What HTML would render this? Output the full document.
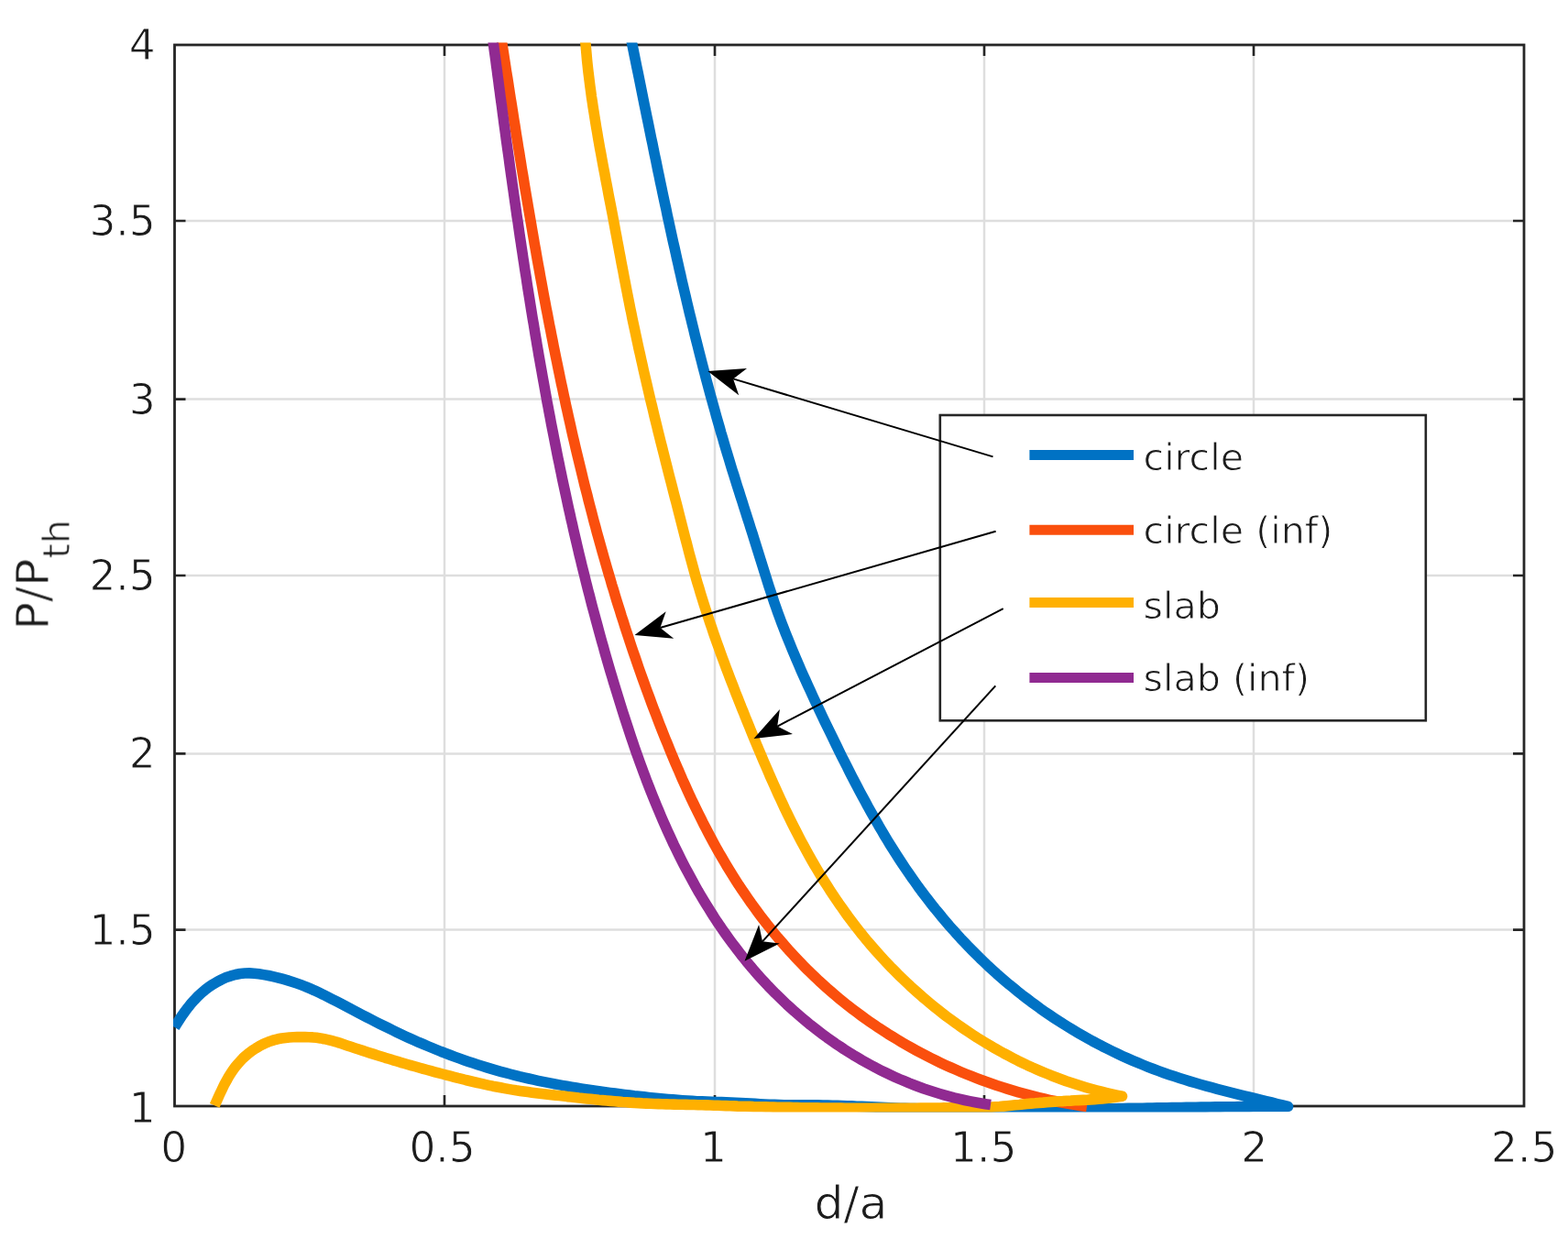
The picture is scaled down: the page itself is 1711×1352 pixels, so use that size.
<!DOCTYPE html>
<html><head><meta charset="utf-8"><title>P/Pth vs d/a</title>
<style>
html,body{margin:0;padding:0;background:#fff;}
body{width:1711px;height:1352px;overflow:hidden;}
svg{display:block;}
text{font-family:"DejaVu Sans","Liberation Sans",sans-serif;fill:#1c1c1c;stroke:#fff;stroke-width:0.9px;stroke-linejoin:round;}
.tk{font-size:45.5px;}
.lb{font-size:50.5px;}
.lg{font-size:41.2px;}
</style></head><body>
<svg width="1711" height="1352" viewBox="0 0 1711 1352">
<rect width="1711" height="1352" fill="#fff"/>
<defs><filter id="soft" x="-2%" y="-2%" width="104%" height="104%" filterUnits="objectBoundingBox"><feGaussianBlur stdDeviation="0.7"/></filter><clipPath id="ax"><rect x="189.0" y="46.5" width="1475.5" height="1167.0"/></clipPath></defs>
<g filter="url(#soft)">

<path d="M485,49.0 V1207.0 M780,49.0 V1207.0 M1074,49.0 V1207.0 M1368,49.0 V1207.0 M190.5,241 H1663.0 M190.5,435.6 H1663.0 M190.5,628 H1663.0 M190.5,822.4 H1663.0 M190.5,1014.6 H1663.0" stroke="#dedede" stroke-width="2.5" fill="none"/>
<path d="M485,1207.0 v-12 M485,49.0 v12 M780,1207.0 v-12 M780,49.0 v12 M1074,1207.0 v-12 M1074,49.0 v12 M1368,1207.0 v-12 M1368,49.0 v12 M190.5,241 h12 M1663.0,241 h-12 M190.5,435.6 h12 M1663.0,435.6 h-12 M190.5,628 h12 M1663.0,628 h-12 M190.5,822.4 h12 M1663.0,822.4 h-12 M190.5,1014.6 h12 M1663.0,1014.6 h-12" stroke="#262626" stroke-width="2.6" fill="none"/>
<rect x="190.5" y="49.0" width="1472.5" height="1158.0" fill="none" stroke="#262626" stroke-width="2.8"/>
<g clip-path="url(#ax)">
<path d="M687.6,37.2 L690.0,49.0 L691.2,55.0 L692.4,61.0 L693.6,66.9 L694.8,72.9 L696.1,78.9 L697.3,84.9 L698.5,90.8 L699.7,96.8 L700.9,102.8 L702.1,108.8 L703.3,114.8 L704.5,120.7 L705.7,126.7 L707.0,132.7 L708.2,138.7 L709.4,144.7 L710.6,150.6 L711.9,156.6 L713.1,162.6 L714.3,168.6 L715.6,174.6 L716.8,180.5 L718.0,186.5 L719.3,192.5 L720.5,198.5 L721.8,204.4 L723.0,210.4 L724.3,216.4 L725.6,222.4 L726.9,228.3 L728.1,234.3 L729.4,240.3 L730.7,246.3 L732.0,252.2 L733.3,258.2 L734.6,264.2 L736.0,270.1 L737.3,276.1 L738.6,282.0 L740.0,288.0 L741.3,294.0 L742.7,299.9 L744.0,305.9 L745.4,311.8 L746.8,317.8 L748.2,323.7 L749.6,329.7 L751.0,335.6 L752.4,341.6 L753.9,347.5 L755.3,353.4 L756.8,359.4 L758.2,365.3 L759.7,371.2 L761.2,377.1 L762.7,383.1 L764.2,389.0 L765.7,394.9 L767.2,400.8 L768.8,406.7 L770.3,412.6 L771.9,418.6 L773.5,424.5 L775.1,430.4 L776.7,436.2 L778.3,442.1 L780.0,448.0 L781.6,453.9 L783.3,459.8 L785.0,465.7 L786.6,471.6 L788.4,477.4 L790.1,483.3 L791.8,489.2 L793.6,495.0 L795.4,500.9 L797.1,506.7 L798.9,512.6 L800.8,518.4 L802.6,524.2 L804.4,530.1 L806.3,535.9 L808.1,541.7 L810.0,547.5 L811.8,553.4 L813.7,559.2 L815.5,565.0 L817.4,570.8 L819.2,576.6 L821.1,582.4 L822.9,588.2 L824.7,593.9 L826.5,599.7 L828.3,605.5 L830.1,611.2 L831.9,617.0 L833.7,622.8 L835.5,628.5 L837.3,634.2 L839.1,640.0 L841.0,645.7 L842.9,651.4 L844.8,657.2 L846.8,662.9 L848.8,668.6 L850.9,674.3 L853.0,680.0 L855.2,685.7 L857.4,691.4 L859.7,697.0 L862.0,702.7 L864.3,708.4 L866.7,714.0 L869.1,719.7 L871.5,725.3 L873.9,731.0 L876.4,736.6 L879.0,742.2 L881.5,747.8 L884.1,753.4 L886.6,759.0 L889.2,764.6 L891.9,770.2 L894.5,775.8 L897.2,781.4 L899.8,786.9 L902.5,792.5 L905.2,798.0 L907.9,803.6 L910.6,809.1 L913.3,814.6 L916.0,820.2 L918.7,825.7 L921.5,831.2 L924.3,836.6 L927.0,842.1 L929.8,847.6 L932.6,853.0 L935.5,858.4 L938.3,863.8 L941.2,869.2 L944.1,874.6 L947.0,880.0 L950.0,885.3 L953.0,890.6 L956.0,895.9 L959.0,901.2 L962.1,906.4 L965.2,911.7 L968.3,916.9 L971.5,922.1 L974.7,927.2 L978.0,932.4 L981.3,937.5 L984.6,942.5 L988.0,947.6 L991.4,952.6 L994.9,957.6 L998.4,962.5 L1001.9,967.5 L1005.5,972.4 L1009.2,977.2 L1012.9,982.1 L1016.6,986.8 L1020.4,991.6 L1024.3,996.3 L1028.1,1001.0 L1032.1,1005.7 L1036.0,1010.3 L1040.1,1014.8 L1044.1,1019.4 L1048.2,1023.9 L1052.4,1028.3 L1056.6,1032.7 L1060.9,1037.1 L1065.2,1041.4 L1069.5,1045.7 L1073.9,1049.9 L1078.3,1054.1 L1082.8,1058.2 L1087.3,1062.3 L1091.9,1066.3 L1096.5,1070.3 L1101.2,1074.3 L1105.9,1078.1 L1110.6,1082.0 L1115.4,1085.8 L1120.3,1089.5 L1125.1,1093.2 L1130.1,1096.8 L1135.0,1100.4 L1140.0,1103.9 L1145.1,1107.4 L1150.2,1110.8 L1155.3,1114.1 L1160.4,1117.4 L1165.6,1120.6 L1170.8,1123.8 L1176.1,1126.9 L1181.4,1130.0 L1186.7,1133.0 L1192.1,1136.0 L1197.5,1138.8 L1202.9,1141.7 L1208.3,1144.4 L1213.8,1147.1 L1219.3,1149.8 L1224.9,1152.4 L1230.4,1154.9 L1236.0,1157.3 L1241.6,1159.7 L1247.2,1162.0 L1252.9,1164.3 L1258.6,1166.5 L1264.3,1168.6 L1270.0,1170.7 L1275.7,1172.7 L1281.5,1174.6 L1287.3,1176.5 L1293.1,1178.3 L1298.9,1180.1 L1304.7,1181.8 L1310.6,1183.5 L1316.4,1185.1 L1322.3,1186.7 L1328.2,1188.3 L1334.1,1189.8 L1340.0,1191.3 L1345.9,1192.8 L1351.8,1194.3 L1357.8,1195.8 L1363.7,1197.2 L1369.7,1198.7 L1375.6,1200.1 L1381.6,1201.6 L1387.6,1203.0 L1393.5,1204.5 L1399.5,1205.9 L1405.5,1207.4 L1405.5,1207.4 L1400.2,1207.4 L1394.9,1207.4 L1389.6,1207.4 L1384.3,1207.4 L1379.0,1207.5 L1373.7,1207.5 L1368.5,1207.5 L1363.2,1207.6 L1357.9,1207.6 L1352.6,1207.6 L1347.3,1207.7 L1342.0,1207.7 L1336.7,1207.8 L1331.4,1207.9 L1326.1,1207.9 L1320.8,1208.0 L1315.5,1208.1 L1310.3,1208.1 L1305.0,1208.2 L1299.7,1208.3 L1294.4,1208.4 L1289.1,1208.5 L1283.8,1208.6 L1278.5,1208.6 L1273.2,1208.7 L1267.9,1208.8 L1262.6,1208.9 L1257.3,1209.0 L1252.1,1209.1 L1246.8,1209.2 L1241.5,1209.3 L1236.2,1209.3 L1230.9,1209.4 L1225.6,1209.5 L1220.3,1209.6 L1215.0,1209.7 L1209.7,1209.8 L1204.5,1209.9 L1199.2,1209.9 L1193.9,1210.0 L1188.6,1210.1 L1183.3,1210.2 L1178.0,1210.3 L1172.7,1210.3 L1167.4,1210.4 L1162.1,1210.5 L1156.9,1210.5 L1151.6,1210.6 L1146.3,1210.6 L1141.0,1210.7 L1135.7,1210.7 L1130.4,1210.7 L1125.1,1210.8 L1119.8,1210.8 L1114.6,1210.8 L1109.3,1210.9 L1104.0,1210.9 L1098.7,1210.9 L1093.4,1210.9 L1088.1,1210.9 L1082.8,1210.9 L1077.6,1210.8 L1072.3,1210.8 L1067.0,1210.8 L1061.7,1210.8 L1056.4,1210.7 L1051.1,1210.7 L1045.8,1210.6 L1040.6,1210.5 L1035.3,1210.4 L1030.0,1210.4 L1024.7,1210.3 L1019.4,1210.2 L1014.1,1210.0 L1008.9,1209.9 L1003.6,1209.8 L998.3,1209.6 L993.0,1209.5 L987.7,1209.3 L982.4,1209.2 L977.2,1209.0 L971.9,1208.8 L966.6,1208.6 L961.3,1208.4 L956.0,1208.1 L950.7,1207.9 L945.5,1207.6 L940.2,1207.4 L934.9,1207.2 L929.6,1206.9 L924.3,1206.7 L919.0,1206.5 L913.8,1206.3 L908.5,1206.2 L903.2,1206.1 L897.9,1206.0 L892.6,1205.9 L887.4,1205.9 L882.1,1205.9 L876.8,1205.9 L871.5,1205.8 L866.2,1205.8 L861.0,1205.8 L855.7,1205.7 L850.4,1205.6 L845.1,1205.4 L839.8,1205.2 L834.6,1205.0 L829.3,1204.7 L824.0,1204.4 L818.7,1204.1 L813.4,1203.8 L808.2,1203.5 L802.9,1203.3 L797.6,1203.0 L792.3,1202.8 L787.1,1202.6 L781.8,1202.5 L776.5,1202.3 L771.2,1202.1 L766.0,1201.9 L760.7,1201.7 L755.4,1201.4 L750.1,1201.1 L744.9,1200.7 L739.6,1200.3 L734.3,1199.9 L729.0,1199.4 L723.8,1198.9 L718.5,1198.4 L713.2,1197.9 L707.9,1197.4 L702.7,1196.8 L697.4,1196.2 L692.1,1195.7 L686.8,1195.0 L681.6,1194.4 L676.3,1193.8 L671.0,1193.1 L665.8,1192.5 L660.5,1191.8 L655.3,1191.0 L650.0,1190.3 L644.8,1189.5 L639.5,1188.7 L634.3,1187.9 L629.1,1187.1 L623.8,1186.2 L618.6,1185.3 L613.4,1184.4 L608.2,1183.4 L603.0,1182.4 L597.8,1181.4 L592.6,1180.4 L587.4,1179.3 L582.3,1178.2 L577.1,1177.0 L572.0,1175.8 L566.8,1174.6 L561.7,1173.3 L556.6,1172.0 L551.5,1170.7 L546.4,1169.3 L541.3,1167.9 L536.2,1166.4 L531.2,1164.9 L526.1,1163.3 L521.1,1161.7 L516.1,1160.1 L511.1,1158.4 L506.1,1156.7 L501.1,1154.9 L496.1,1153.1 L491.2,1151.3 L486.3,1149.4 L481.3,1147.5 L476.4,1145.5 L471.6,1143.5 L466.7,1141.5 L461.8,1139.4 L457.0,1137.4 L452.2,1135.2 L447.4,1133.1 L442.6,1130.9 L437.9,1128.7 L433.1,1126.4 L428.4,1124.1 L423.7,1121.8 L419.0,1119.5 L414.3,1117.2 L409.6,1114.8 L404.9,1112.4 L400.2,1110.0 L395.5,1107.6 L390.8,1105.1 L386.1,1102.7 L381.4,1100.2 L376.7,1097.7 L372.0,1095.2 L367.2,1092.7 L362.5,1090.3 L357.7,1087.8 L352.9,1085.4 L348.0,1083.1 L343.2,1080.8 L338.3,1078.7 L333.4,1076.6 L328.4,1074.7 L323.4,1072.9 L318.4,1071.2 L313.3,1069.6 L308.2,1068.2 L303.1,1066.8 L298.0,1065.6 L292.9,1064.5 L287.7,1063.6 L282.6,1062.8 L277.4,1062.2 L272.2,1061.9 L267.1,1062.0 L262.0,1062.5 L256.9,1063.5 L251.8,1064.9 L246.8,1066.6 L242.0,1068.8 L237.2,1071.2 L232.6,1073.9 L228.1,1076.9 L223.8,1080.2 L219.7,1083.6 L215.8,1087.3 L212.1,1091.2 L208.5,1095.2 L205.2,1099.3 L202.0,1103.5 L198.9,1107.8 L196.0,1112.2 L193.2,1116.6 L190.5,1121.0" fill="none" stroke="#0072c4" stroke-width="11.6" stroke-linejoin="round" stroke-linecap="butt"/>
<path d="M546.3,37.1 L548.1,49.0 L549.0,54.9 L549.9,60.7 L550.8,66.6 L551.7,72.4 L552.6,78.3 L553.6,84.2 L554.5,90.0 L555.4,95.9 L556.3,101.8 L557.2,107.6 L558.2,113.5 L559.1,119.4 L560.0,125.2 L560.9,131.1 L561.9,137.0 L562.8,142.9 L563.7,148.7 L564.7,154.6 L565.6,160.5 L566.6,166.3 L567.5,172.2 L568.5,178.1 L569.4,184.0 L570.4,189.8 L571.4,195.7 L572.3,201.6 L573.3,207.5 L574.3,213.4 L575.3,219.2 L576.3,225.1 L577.3,231.0 L578.3,236.9 L579.3,242.7 L580.3,248.6 L581.3,254.5 L582.3,260.3 L583.3,266.2 L584.4,272.1 L585.4,278.0 L586.4,283.8 L587.5,289.7 L588.6,295.6 L589.6,301.4 L590.7,307.3 L591.8,313.2 L592.8,319.0 L593.9,324.9 L595.0,330.7 L596.1,336.6 L597.3,342.5 L598.4,348.3 L599.5,354.2 L600.7,360.0 L601.8,365.9 L603.0,371.7 L604.1,377.6 L605.3,383.4 L606.5,389.3 L607.7,395.1 L608.9,401.0 L610.1,406.8 L611.3,412.6 L612.5,418.5 L613.8,424.3 L615.0,430.1 L616.3,435.9 L617.5,441.8 L618.8,447.6 L620.1,453.4 L621.4,459.2 L622.7,465.0 L624.0,470.9 L625.3,476.7 L626.7,482.5 L628.0,488.3 L629.4,494.1 L630.8,499.9 L632.2,505.7 L633.6,511.4 L635.0,517.2 L636.4,523.0 L637.8,528.8 L639.3,534.6 L640.8,540.3 L642.2,546.1 L643.7,551.9 L645.2,557.6 L646.7,563.4 L648.2,569.2 L649.8,574.9 L651.3,580.7 L652.9,586.4 L654.5,592.1 L656.1,597.9 L657.7,603.6 L659.3,609.3 L661.0,615.1 L662.6,620.8 L664.3,626.5 L666.0,632.2 L667.6,637.9 L669.4,643.6 L671.1,649.3 L672.8,655.0 L674.6,660.7 L676.4,666.3 L678.1,672.0 L680.0,677.7 L681.8,683.4 L683.6,689.0 L685.5,694.7 L687.3,700.3 L689.2,706.0 L691.1,711.6 L693.1,717.2 L695.0,722.9 L696.9,728.5 L698.9,734.1 L700.9,739.7 L702.9,745.3 L704.9,750.9 L707.0,756.5 L709.1,762.1 L711.1,767.7 L713.2,773.3 L715.4,778.8 L717.5,784.4 L719.6,790.0 L721.8,795.5 L724.0,801.1 L726.2,806.6 L728.5,812.1 L730.7,817.7 L733.0,823.2 L735.3,828.7 L737.6,834.2 L740.0,839.6 L742.3,845.1 L744.7,850.6 L747.2,856.0 L749.6,861.4 L752.1,866.9 L754.6,872.3 L757.2,877.6 L759.8,883.0 L762.4,888.3 L765.1,893.7 L767.7,899.0 L770.5,904.3 L773.2,909.5 L776.0,914.8 L778.8,920.0 L781.7,925.2 L784.6,930.4 L787.6,935.5 L790.6,940.6 L793.6,945.7 L796.7,950.8 L799.8,955.8 L803.0,960.8 L806.2,965.8 L809.5,970.7 L812.8,975.6 L816.2,980.5 L819.6,985.4 L823.1,990.2 L826.6,995.0 L830.1,999.7 L833.7,1004.4 L837.4,1009.1 L841.1,1013.7 L844.8,1018.3 L848.6,1022.9 L852.5,1027.4 L856.4,1031.8 L860.3,1036.3 L864.3,1040.7 L868.3,1045.0 L872.4,1049.3 L876.5,1053.6 L880.7,1057.8 L884.9,1061.9 L889.2,1066.0 L893.5,1070.1 L897.9,1074.1 L902.3,1078.1 L906.8,1082.0 L911.3,1085.9 L915.8,1089.7 L920.5,1093.5 L925.1,1097.2 L929.8,1100.8 L934.6,1104.4 L939.4,1108.0 L944.2,1111.5 L949.1,1114.9 L954.0,1118.3 L959.0,1121.7 L964.0,1124.9 L969.0,1128.2 L974.1,1131.3 L979.2,1134.4 L984.3,1137.5 L989.5,1140.5 L994.7,1143.4 L1000.0,1146.3 L1005.3,1149.1 L1010.6,1151.9 L1015.9,1154.6 L1021.3,1157.3 L1026.7,1159.9 L1032.1,1162.4 L1037.6,1164.9 L1043.1,1167.3 L1048.6,1169.7 L1054.1,1172.0 L1059.7,1174.2 L1065.2,1176.4 L1070.8,1178.5 L1076.5,1180.5 L1082.1,1182.5 L1087.8,1184.5 L1093.4,1186.3 L1099.1,1188.1 L1104.9,1189.9 L1110.6,1191.6 L1116.3,1193.2 L1122.1,1194.7 L1127.8,1196.2 L1133.6,1197.6 L1139.4,1199.0 L1145.2,1200.3 L1151.0,1201.5 L1156.8,1202.7 L1162.7,1203.8 L1168.5,1204.8 L1174.3,1205.8 L1180.2,1206.7 L1186.0,1207.5" fill="none" stroke="#fa500a" stroke-width="11.6" stroke-linejoin="round" stroke-linecap="butt"/>
<path d="M637.9,37.1 L639.1,49.0 L639.6,54.6 L640.1,60.3 L640.6,65.9 L641.2,71.5 L641.8,77.2 L642.5,82.8 L643.2,88.4 L643.9,94.1 L644.7,99.7 L645.4,105.3 L646.3,111.0 L647.1,116.6 L648.0,122.2 L648.9,127.9 L649.8,133.5 L650.7,139.2 L651.7,144.8 L652.6,150.4 L653.6,156.1 L654.6,161.7 L655.7,167.4 L656.7,173.0 L657.7,178.6 L658.8,184.3 L659.9,189.9 L660.9,195.5 L662.0,201.2 L663.1,206.8 L664.1,212.5 L665.2,218.1 L666.3,223.7 L667.4,229.4 L668.5,235.0 L669.5,240.6 L670.6,246.3 L671.6,251.9 L672.7,257.6 L673.7,263.2 L674.8,268.8 L675.8,274.4 L676.9,280.1 L677.9,285.7 L679.0,291.3 L680.1,297.0 L681.1,302.6 L682.2,308.2 L683.3,313.8 L684.4,319.5 L685.5,325.1 L686.6,330.7 L687.7,336.3 L688.9,341.9 L690.0,347.6 L691.2,353.2 L692.4,358.8 L693.6,364.4 L694.8,370.0 L696.0,375.6 L697.2,381.2 L698.5,386.8 L699.7,392.4 L701.0,398.0 L702.2,403.6 L703.5,409.2 L704.8,414.8 L706.1,420.4 L707.4,426.0 L708.7,431.6 L710.0,437.2 L711.4,442.7 L712.7,448.3 L714.0,453.9 L715.4,459.5 L716.8,465.1 L718.1,470.6 L719.5,476.2 L720.9,481.8 L722.3,487.3 L723.7,492.9 L725.1,498.4 L726.5,504.0 L727.9,509.5 L729.3,515.1 L730.7,520.6 L732.2,526.2 L733.6,531.7 L735.0,537.3 L736.4,542.8 L737.9,548.3 L739.3,553.8 L740.7,559.4 L742.1,564.9 L743.5,570.4 L744.9,575.9 L746.3,581.4 L747.7,586.9 L749.2,592.4 L750.6,597.9 L752.0,603.4 L753.5,608.9 L755.0,614.4 L756.5,619.9 L758.0,625.4 L759.5,630.9 L761.1,636.3 L762.8,641.8 L764.4,647.3 L766.1,652.7 L767.8,658.2 L769.5,663.6 L771.3,669.1 L773.1,674.5 L774.9,680.0 L776.8,685.4 L778.6,690.8 L780.5,696.2 L782.4,701.7 L784.4,707.1 L786.3,712.5 L788.3,717.9 L790.3,723.3 L792.3,728.7 L794.4,734.1 L796.4,739.5 L798.5,744.9 L800.6,750.2 L802.6,755.6 L804.8,761.0 L806.9,766.3 L809.0,771.7 L811.2,777.0 L813.3,782.4 L815.5,787.7 L817.7,793.1 L819.8,798.4 L822.0,803.7 L824.2,809.0 L826.4,814.4 L828.7,819.7 L830.9,825.0 L833.1,830.2 L835.4,835.5 L837.7,840.8 L839.9,846.0 L842.3,851.3 L844.6,856.5 L846.9,861.7 L849.3,867.0 L851.7,872.1 L854.1,877.3 L856.5,882.5 L859.0,887.6 L861.5,892.8 L864.0,897.9 L866.6,903.0 L869.2,908.0 L871.8,913.1 L874.4,918.1 L877.1,923.1 L879.8,928.1 L882.6,933.1 L885.4,938.1 L888.2,943.0 L891.1,947.9 L894.0,952.7 L896.9,957.6 L899.9,962.4 L903.0,967.2 L906.0,972.0 L909.2,976.7 L912.3,981.4 L915.5,986.1 L918.8,990.7 L922.1,995.4 L925.4,1000.0 L928.8,1004.5 L932.2,1009.0 L935.7,1013.5 L939.2,1018.0 L942.8,1022.4 L946.4,1026.8 L950.1,1031.1 L953.8,1035.4 L957.6,1039.7 L961.4,1043.9 L965.3,1048.1 L969.2,1052.2 L973.2,1056.4 L977.2,1060.4 L981.2,1064.5 L985.3,1068.4 L989.5,1072.4 L993.6,1076.3 L997.9,1080.1 L1002.1,1083.9 L1006.4,1087.7 L1010.8,1091.4 L1015.2,1095.1 L1019.6,1098.7 L1024.1,1102.3 L1028.6,1105.8 L1033.1,1109.3 L1037.7,1112.7 L1042.3,1116.0 L1047.0,1119.4 L1051.7,1122.6 L1056.4,1125.8 L1061.2,1129.0 L1066.0,1132.1 L1070.9,1135.1 L1075.8,1138.1 L1080.7,1141.0 L1085.6,1143.9 L1090.6,1146.7 L1095.6,1149.5 L1100.7,1152.2 L1105.7,1154.8 L1110.8,1157.4 L1116.0,1159.9 L1121.1,1162.4 L1126.3,1164.8 L1131.6,1167.1 L1136.8,1169.3 L1142.1,1171.5 L1147.4,1173.7 L1152.8,1175.7 L1158.1,1177.7 L1163.5,1179.7 L1169.0,1181.5 L1174.4,1183.3 L1179.9,1185.0 L1185.4,1186.7 L1190.9,1188.3 L1196.4,1189.8 L1202.0,1191.2 L1207.6,1192.6 L1213.2,1193.9 L1218.8,1195.1 L1224.5,1196.2 L1224.5,1196.2 L1220.2,1196.9 L1215.9,1197.6 L1211.6,1198.1 L1207.2,1198.6 L1202.9,1199.0 L1198.6,1199.3 L1194.3,1199.7 L1190.0,1199.9 L1185.7,1200.2 L1181.4,1200.4 L1177.0,1200.6 L1172.7,1200.8 L1168.4,1201.1 L1164.1,1201.3 L1159.8,1201.6 L1155.5,1201.8 L1151.2,1202.1 L1146.8,1202.4 L1142.5,1202.7 L1138.2,1203.1 L1133.9,1203.4 L1129.6,1203.8 L1125.3,1204.1 L1120.9,1204.5 L1116.6,1204.9 L1112.3,1205.4 L1108.0,1205.8 L1103.7,1206.2 L1099.3,1206.7 L1095.0,1207.1 L1090.7,1207.5 L1086.4,1207.8 L1082.1,1208.1 L1077.8,1208.2 L1073.4,1208.4 L1069.1,1208.5 L1064.8,1208.5 L1060.5,1208.6 L1056.2,1208.7 L1051.8,1208.7 L1047.5,1208.8 L1043.2,1208.8 L1038.9,1208.8 L1034.5,1208.9 L1030.2,1208.9 L1025.9,1209.0 L1021.6,1209.0 L1017.3,1209.0 L1012.9,1209.1 L1008.6,1209.1 L1004.3,1209.1 L1000.0,1209.2 L995.6,1209.2 L991.3,1209.2 L987.0,1209.2 L982.7,1209.2 L978.3,1209.3 L974.0,1209.3 L969.7,1209.3 L965.4,1209.3 L961.0,1209.3 L956.7,1209.3 L952.4,1209.3 L948.0,1209.3 L943.7,1209.3 L939.4,1209.3 L935.1,1209.2 L930.7,1209.2 L926.4,1209.2 L922.1,1209.2 L917.7,1209.1 L913.4,1209.1 L909.1,1209.1 L904.7,1209.0 L900.4,1209.0 L896.1,1209.0 L891.8,1208.9 L887.4,1208.8 L883.1,1208.8 L878.8,1208.7 L874.4,1208.7 L870.1,1208.6 L865.8,1208.5 L861.4,1208.4 L857.1,1208.4 L852.8,1208.3 L848.4,1208.2 L844.1,1208.1 L839.7,1208.0 L835.4,1207.9 L831.1,1207.8 L826.7,1207.7 L822.4,1207.6 L818.1,1207.4 L813.7,1207.3 L809.4,1207.2 L805.0,1207.1 L800.7,1206.9 L796.4,1206.8 L792.0,1206.6 L787.7,1206.5 L783.3,1206.3 L779.0,1206.2 L774.7,1206.0 L770.3,1205.9 L766.0,1205.8 L761.6,1205.7 L757.3,1205.5 L753.0,1205.5 L748.6,1205.4 L744.3,1205.3 L740.0,1205.2 L735.6,1205.1 L731.3,1205.0 L726.9,1204.9 L722.6,1204.8 L718.3,1204.6 L713.9,1204.5 L709.6,1204.3 L705.3,1204.1 L700.9,1203.9 L696.6,1203.6 L692.3,1203.4 L688.0,1203.1 L683.6,1202.8 L679.3,1202.5 L675.0,1202.1 L670.7,1201.8 L666.3,1201.4 L662.0,1201.0 L657.7,1200.6 L653.4,1200.2 L649.1,1199.7 L644.8,1199.3 L640.5,1198.9 L636.1,1198.4 L631.8,1198.0 L627.5,1197.5 L623.2,1197.0 L618.9,1196.6 L614.6,1196.1 L610.3,1195.6 L606.1,1195.2 L601.8,1194.7 L597.5,1194.2 L593.2,1193.7 L588.9,1193.2 L584.6,1192.7 L580.4,1192.2 L576.1,1191.6 L571.8,1191.0 L567.6,1190.4 L563.3,1189.8 L559.0,1189.1 L554.8,1188.4 L550.5,1187.6 L546.3,1186.8 L542.0,1186.0 L537.8,1185.2 L533.6,1184.3 L529.3,1183.4 L525.1,1182.4 L520.9,1181.5 L516.6,1180.5 L512.4,1179.5 L508.2,1178.5 L504.0,1177.4 L499.8,1176.4 L495.6,1175.3 L491.4,1174.2 L487.2,1173.1 L483.0,1172.0 L478.8,1170.9 L474.6,1169.8 L470.5,1168.7 L466.3,1167.5 L462.1,1166.4 L458.0,1165.2 L453.8,1164.0 L449.6,1162.9 L445.5,1161.7 L441.3,1160.5 L437.1,1159.3 L433.0,1158.0 L428.8,1156.8 L424.7,1155.5 L420.5,1154.3 L416.4,1153.0 L412.2,1151.7 L408.1,1150.4 L403.9,1149.1 L399.7,1147.7 L395.6,1146.4 L391.4,1145.0 L387.3,1143.7 L383.1,1142.3 L378.9,1140.9 L374.7,1139.5 L370.6,1138.1 L366.4,1136.8 L362.2,1135.7 L358.0,1134.6 L353.8,1133.7 L349.6,1132.9 L345.4,1132.3 L341.2,1131.9 L337.0,1131.7 L332.8,1131.6 L328.6,1131.6 L324.3,1131.6 L320.1,1131.8 L315.8,1132.0 L311.6,1132.5 L307.3,1133.0 L303.1,1133.8 L298.9,1134.9 L294.8,1136.2 L290.7,1137.8 L286.7,1139.6 L282.8,1141.7 L279.0,1144.0 L275.3,1146.4 L271.7,1149.1 L268.3,1151.9 L265.0,1154.9 L262.0,1158.1 L259.1,1161.3 L256.4,1164.7 L253.9,1168.2 L251.5,1171.7 L249.3,1175.3 L247.2,1179.1 L245.1,1182.8 L243.2,1186.7 L241.4,1190.6 L239.5,1194.5 L237.8,1198.4 L236.0,1202.4 L234.2,1206.4" fill="none" stroke="#ffb000" stroke-width="11.6" stroke-linejoin="round" stroke-linecap="butt"/>
<path d="M537.0,37.1 L538.6,49.0 L539.3,54.7 L540.1,60.4 L540.9,66.1 L541.6,71.8 L542.4,77.4 L543.1,83.1 L543.9,88.8 L544.6,94.5 L545.4,100.2 L546.1,105.9 L546.9,111.5 L547.7,117.2 L548.4,122.9 L549.2,128.6 L549.9,134.2 L550.7,139.9 L551.5,145.6 L552.2,151.2 L553.0,156.9 L553.8,162.6 L554.6,168.2 L555.4,173.9 L556.1,179.5 L556.9,185.2 L557.7,190.9 L558.5,196.5 L559.3,202.2 L560.1,207.8 L560.9,213.5 L561.7,219.1 L562.5,224.8 L563.3,230.4 L564.1,236.1 L565.0,241.7 L565.8,247.4 L566.6,253.0 L567.4,258.6 L568.3,264.3 L569.1,269.9 L570.0,275.6 L570.8,281.2 L571.7,286.8 L572.5,292.5 L573.4,298.1 L574.3,303.7 L575.1,309.3 L576.0,315.0 L576.9,320.6 L577.8,326.2 L578.7,331.8 L579.6,337.5 L580.5,343.1 L581.4,348.7 L582.4,354.3 L583.3,359.9 L584.2,365.5 L585.2,371.2 L586.1,376.8 L587.1,382.4 L588.0,388.0 L589.0,393.6 L590.0,399.2 L591.0,404.8 L592.0,410.4 L593.0,416.0 L594.0,421.6 L595.0,427.2 L596.0,432.8 L597.0,438.4 L598.1,444.0 L599.1,449.6 L600.2,455.2 L601.2,460.7 L602.3,466.3 L603.4,471.9 L604.5,477.5 L605.6,483.1 L606.7,488.7 L607.8,494.3 L608.9,499.8 L610.1,505.4 L611.2,511.0 L612.4,516.6 L613.5,522.1 L614.7,527.7 L615.9,533.3 L617.1,538.8 L618.3,544.4 L619.5,550.0 L620.7,555.5 L622.0,561.1 L623.2,566.7 L624.5,572.2 L625.7,577.8 L627.0,583.3 L628.3,588.9 L629.6,594.5 L630.9,600.0 L632.2,605.6 L633.6,611.1 L634.9,616.7 L636.3,622.2 L637.7,627.7 L639.0,633.3 L640.4,638.8 L641.8,644.4 L643.3,649.9 L644.7,655.5 L646.1,661.0 L647.6,666.5 L649.1,672.1 L650.6,677.6 L652.1,683.1 L653.6,688.7 L655.1,694.2 L656.6,699.7 L658.2,705.2 L659.7,710.8 L661.3,716.3 L662.9,721.8 L664.5,727.3 L666.1,732.8 L667.8,738.4 L669.4,743.9 L671.1,749.4 L672.8,754.9 L674.5,760.4 L676.2,765.9 L677.9,771.4 L679.6,776.9 L681.4,782.4 L683.2,787.9 L685.0,793.4 L686.8,798.9 L688.6,804.3 L690.5,809.8 L692.3,815.3 L694.2,820.7 L696.2,826.2 L698.1,831.6 L700.1,837.0 L702.1,842.4 L704.1,847.8 L706.1,853.2 L708.2,858.5 L710.3,863.9 L712.4,869.2 L714.6,874.5 L716.8,879.9 L719.0,885.1 L721.2,890.4 L723.5,895.7 L725.8,900.9 L728.1,906.1 L730.5,911.3 L732.9,916.5 L735.3,921.7 L737.8,926.8 L740.3,931.9 L742.8,937.0 L745.4,942.1 L748.0,947.1 L750.7,952.1 L753.4,957.1 L756.1,962.1 L758.8,967.0 L761.6,972.0 L764.5,976.9 L767.4,981.7 L770.3,986.5 L773.3,991.3 L776.3,996.1 L779.3,1000.9 L782.4,1005.6 L785.6,1010.2 L788.7,1014.9 L792.0,1019.5 L795.3,1024.1 L798.6,1028.6 L802.0,1033.1 L805.4,1037.6 L808.8,1042.0 L812.4,1046.4 L815.9,1050.8 L819.6,1055.1 L823.2,1059.4 L826.9,1063.6 L830.7,1067.8 L834.6,1072.0 L838.4,1076.1 L842.4,1080.2 L846.3,1084.2 L850.4,1088.2 L854.5,1092.2 L858.6,1096.1 L862.8,1099.9 L867.0,1103.7 L871.3,1107.4 L875.6,1111.1 L880.0,1114.8 L884.4,1118.4 L888.9,1121.9 L893.4,1125.4 L897.9,1128.8 L902.5,1132.2 L907.2,1135.5 L911.8,1138.8 L916.6,1141.9 L921.3,1145.1 L926.1,1148.1 L931.0,1151.2 L935.9,1154.1 L940.8,1157.0 L945.8,1159.8 L950.8,1162.5 L955.8,1165.2 L960.9,1167.8 L966.0,1170.3 L971.2,1172.8 L976.4,1175.2 L981.6,1177.5 L986.9,1179.7 L992.1,1181.9 L997.5,1184.0 L1002.8,1186.0 L1008.2,1188.0 L1013.6,1189.8 L1019.1,1191.6 L1024.6,1193.3 L1030.1,1194.9 L1035.6,1196.4 L1041.2,1197.9 L1046.8,1199.2 L1052.5,1200.5 L1058.1,1201.7 L1063.8,1202.8 L1069.5,1203.8 L1075.2,1204.7 L1081.0,1205.5" fill="none" stroke="#902c91" stroke-width="11.6" stroke-linejoin="round" stroke-linecap="butt"/>
</g>
<text class="tk" x="189.7" y="1267.8" text-anchor="middle">0</text>
<text class="tk" x="482.6" y="1267.8" text-anchor="middle">0.5</text>
<text class="tk" x="778.6" y="1267.8" text-anchor="middle">1</text>
<text class="tk" x="1073.2" y="1267.8" text-anchor="middle">1.5</text>
<text class="tk" x="1368.8" y="1267.8" text-anchor="middle">2</text>
<text class="tk" x="1663.2" y="1267.8" text-anchor="middle">2.5</text>
<text class="tk" x="169.8" y="65.0" text-anchor="end">4</text>
<text class="tk" x="169.8" y="257.0" text-anchor="end">3.5</text>
<text class="tk" x="169.8" y="451.6" text-anchor="end">3</text>
<text class="tk" x="169.8" y="644.0" text-anchor="end">2.5</text>
<text class="tk" x="169.8" y="838.4" text-anchor="end">2</text>
<text class="tk" x="169.8" y="1030.6" text-anchor="end">1.5</text>
<text class="tk" x="169.8" y="1225.0" text-anchor="end">1</text>
<text class="lb" x="928.5" y="1329.7" text-anchor="middle">d/a</text>
<text class="lb" transform="translate(52.9,687.5) rotate(-90)" x="0" y="0">P/P<tspan font-size="41.5px" dy="22.7">th</tspan></text>
<rect x="1025.8" y="453" width="530.0" height="333.29999999999995" fill="#fff" stroke="#262626" stroke-width="2.6"/>
<path d="M1123.4,496.6 H1237" stroke="#0072c4" stroke-width="11" fill="none"/>
<text class="lg" x="1247.5" y="513.4">circle</text>
<path d="M1123.4,578.3 H1237" stroke="#fa500a" stroke-width="11" fill="none"/>
<text class="lg" x="1247.5" y="592.6">circle (inf)</text>
<path d="M1123.4,657.6 H1237" stroke="#ffb000" stroke-width="11" fill="none"/>
<text class="lg" x="1247.5" y="674.6">slab</text>
<path d="M1123.4,739.6 H1237" stroke="#902c91" stroke-width="11" fill="none"/>
<text class="lg" x="1247.5" y="754.0">slab (inf)</text>
<path d="M1083.5,498.4 L800.1,413.4" stroke="#000" stroke-width="2" fill="none"/><path d="M772.3,405.1 L806.2,431.2 L800.1,413.4 L815.0,401.9 Z" fill="#000"/>
<path d="M1086.6,579.7 L720.4,685.0" stroke="#000" stroke-width="2" fill="none"/><path d="M692.5,693 L735.2,696.7 L720.4,685.0 L726.7,667.2 Z" fill="#000"/>
<path d="M1094.7,664.2 L848.2,792.6" stroke="#000" stroke-width="2" fill="none"/><path d="M822.5,806 L865.0,801.1 L848.2,792.6 L850.9,774.0 Z" fill="#000"/>
<path d="M1086.3,748.4 L832.0,1027.3" stroke="#000" stroke-width="2" fill="none"/><path d="M812.5,1048.75 L850.8,1029.5 L832.0,1027.3 L828.1,1008.9 Z" fill="#000"/>
</g></svg></body></html>
